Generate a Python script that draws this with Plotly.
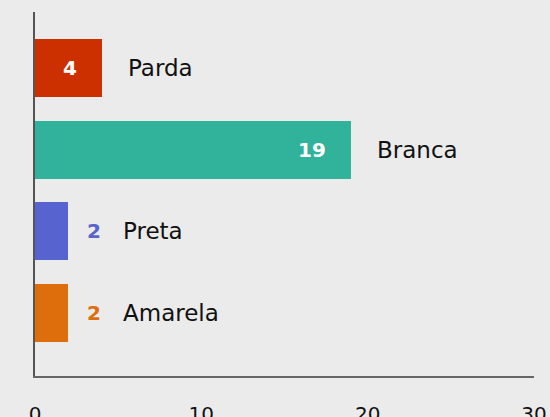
import plotly.graph_objects as go

categories = ["Parda", "Branca", "Preta", "Amarela"]
values = [4, 19, 2, 2]
colors = ["#CC3000", "#31B29B", "#5763CF", "#DE6E0C"]
x_ticks = [0, 10, 20, 30]

FONT = "DejaVu Sans"
BG = "#EBEBEB"
INSIDE_MIN = 3  # valores menores ficam com o número fora da barra

fig = go.Figure()
fig.add_trace(go.Bar(
    x=values, y=categories, orientation="h",
    marker=dict(color=colors, line=dict(width=0)),
    width=0.71,
    hoverinfo="x+y",
))

for cat, val, col in zip(categories, values, colors):
    if val >= INSIDE_MIN:
        fig.add_annotation(
            x=val, y=cat, text=f"<b>{val}</b>", showarrow=False,
            xanchor="right", xshift=-23,
            font=dict(family=FONT, size=20, color="white"),
        )
        name_shift = 24
    else:
        fig.add_annotation(
            x=val, y=cat, text=f"<b>{val}</b>", showarrow=False,
            xanchor="left", xshift=17,
            font=dict(family=FONT, size=20, color=col),
        )
        name_shift = 53
    fig.add_annotation(
        x=val, y=cat, text=cat, showarrow=False,
        xanchor="left", xshift=name_shift,
        font=dict(family=FONT, size=23, color="#111111"),
    )

fig.update_layout(
    width=550, height=417,
    paper_bgcolor=BG, plot_bgcolor=BG,
    margin=dict(l=35, r=16, t=12, b=41, autoexpand=False),
    showlegend=False,
    bargap=0,
    font=dict(family=FONT, color="#111111"),
    xaxis=dict(
        range=[0, 30], tickvals=x_ticks, automargin=False,
        showgrid=False, zeroline=False,
        showline=True, linecolor="#666666", linewidth=2,
        ticks="outside", ticklen=19, tickcolor="rgba(0,0,0,0)",
        tickfont=dict(family=FONT, size=20, color="#111111"),
    ),
    yaxis=dict(
        type="category", categoryorder="array", categoryarray=categories,
        range=[3.77, -0.685], automargin=False,
        showticklabels=False, showgrid=False, zeroline=False,
        showline=True, linecolor="#555555", linewidth=2,
    ),
)

fig.write_html(
    "out.html",
    config={"displayModeBar": False},
    post_script="document.body.style.margin='0';"
                "document.body.style.background='#EBEBEB';",
)
